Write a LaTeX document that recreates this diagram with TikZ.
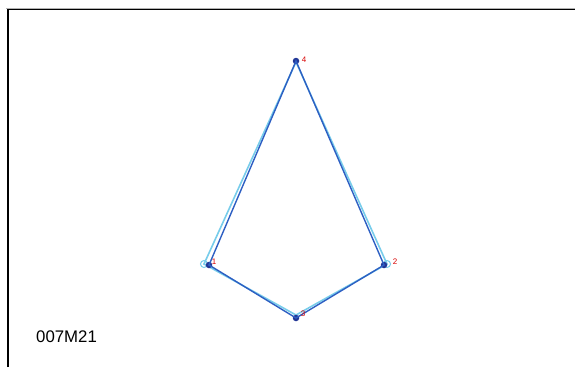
\documentclass[tikz,border=0pt]{standalone}
\usepackage{fontspec}
\setmainfont{Liberation Sans}
\definecolor{edgeblue}{RGB}{45,95,195}
\definecolor{dotblue}{RGB}{35,55,150}
\definecolor{lightcyan}{RGB}{120,205,235}
\begin{document}
\begin{tikzpicture}[x=1pt,y=-1pt,
  frame/.style={black,line width=1.5pt},
  light/.style={lightcyan,line width=1.6pt},
  dark/.style={edgeblue,line width=1.4pt},
  dot/.style={circle,fill=dotblue,inner sep=0pt,minimum size=6.5pt},
  ring/.style={circle,draw=lightcyan,line width=1pt,inner sep=0pt,minimum size=7pt},
  lab/.style={text=red!85!black,font=\fontsize{8}{9}\selectfont,inner sep=0pt}]
\useasboundingbox (0,0) rectangle (575,367);
\fill[white] (0,0) rectangle (575,367);
% frame
\draw[gray!60,line width=0.8pt] (6,8) -- (575,8);
\draw[frame] (8,367) -- (8,9.5) -- (575,9.5);
% light (offset) outline
\coordinate (L1) at (204,264);
\coordinate (L2) at (387,264);
\coordinate (L3) at (296,315);
\coordinate (L4) at (296,62);
\draw[light] (L1) -- (L4) -- (L2) -- (L3) -- cycle;
\node[ring] (r1) at (L1) {};
\node[ring] (r2) at (L2) {};
% dark outline
\node[dot] (p1) at (209,265) {};
\node[dot] (p2) at (384,265) {};
\node[dot] (p3) at (296,318) {};
\node[dot] (p4) at (296,61) {};
\draw[dark] (p1.center) -- (p4.center) -- (p2.center) -- (p3.center) -- cycle;
% labels
\node[lab] (t1) at (214,262) {1};
\node[lab] (t2) at (395,262) {2};
\node[lab] (t3) at (303,314) {3};
\node[lab] (t4) at (304,60) {4};
\node[font=\fontsize{16.8}{18}\selectfont,anchor=base west,inner sep=0pt] (id) at (36,342) {007M21};
\end{tikzpicture}
\end{document}
